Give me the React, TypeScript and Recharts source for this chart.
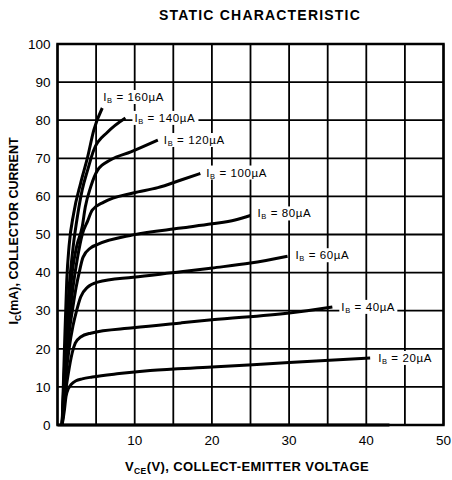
import { CartesianGrid, Line, LineChart, ReferenceArea, XAxis, YAxis } from 'recharts'

// V_CE (V) vs I_C (mA)
const xTicks = [0, 5, 10, 15, 20, 25, 30, 35, 40, 45, 50]
const yTicks = [0, 10, 20, 30, 40, 50, 60, 70, 80, 90, 100]

const ib0 = [[0, 0], [43, 0]]
const ib20 = [[0.6, 0], [0.9, 4], [1.1, 7.5], [1.4, 9.5], [1.8, 10.7], [2.4, 11.6], [3.2, 12.1], [4.5, 12.6], [8, 13.5], [12, 14.3], [20, 15.2], [30, 16.4], [40.5, 17.6]]
const ib40 = [[0.6, 0], [1.0, 8], [1.4, 13.5], [1.9, 18.9], [2.3, 21.5], [3, 23.1], [4.3, 24.1], [9.8, 25.5], [16, 26.8], [20, 27.6], [30, 29.4], [35.6, 31]]
const ib60 = [[0.6, 0], [1.0, 11], [1.5, 20], [2.0, 26], [2.5, 30.2], [3.0, 33.6], [3.9, 36.2], [5.2, 37.5], [9.8, 38.8], [16, 40.2], [20, 41.2], [25, 42.5], [29.8, 44.3]]
const ib80 = [[0.6, 0], [1.0, 13], [1.5, 24], [2.0, 31], [2.4, 36], [2.85, 40.4], [3.3, 44], [4.3, 46.5], [5.2, 47.4], [9.8, 49.9], [16, 51.7], [20, 52.8], [23, 53.8], [25, 55]]
const ib100 = [[0.6, 0], [1.0, 15], [1.5, 27], [2.0, 36], [2.6, 44], [3.2, 50], [3.9, 53.5], [4.5, 56.4], [6, 58.5], [9.8, 60.9], [13, 62.3], [16, 64.3], [18.5, 66]]
const ib120 = [[0.6, 0], [1.0, 18], [1.5, 31], [1.9, 40], [2.5, 47], [3.2, 52], [3.6, 57.2], [4.3, 62.5], [5.2, 66.9], [6.9, 69.6], [9.5, 71.7], [13, 74.8]]
const ib140 = [[0.6, 0], [1.0, 20], [1.5, 36], [2.1, 48], [2.6, 55], [3.2, 61.7], [3.9, 66.9], [4.7, 72.2], [6.5, 76.9], [8.8, 80.6]]
const ib160 = [[0.6, 0], [0.9, 20], [1.2, 38], [1.5, 47], [2.1, 55.6], [3.0, 63.5], [3.9, 70.3], [4.7, 77.4], [5.8, 83.2]]

const curves = [
  { ib: '20', pts: ib20, dx: 8, dy: 0 },
  { ib: '40', pts: ib40, dx: 9, dy: 0 },
  { ib: '60', pts: ib60, dx: 8, dy: -1 },
  { ib: '80', pts: ib80, dx: 7, dy: -2 },
  { ib: '100', pts: ib100, dx: 6, dy: -1 },
  { ib: '120', pts: ib120, dx: 6, dy: 0 },
  { ib: '140', pts: ib140, dx: 9, dy: 0 },
  { ib: '160', pts: ib160, dx: 1, dy: -11 },
]

const FONT = '"Liberation Sans", Arial, Helvetica, sans-serif'

const toRows = (pts: number[][]) => pts.map(([v, i]) => ({ v, i }))

function endLabel(ib: string, dx: number, dy: number, last: number) {
  return (p: any) => {
    if (p.index !== last) return null
    const x = p.x + dx
    const y = p.y + dy
    return (
      <g>
        <rect x={x - 2} y={y - 7} width={ib.length > 2 ? 66 : 58} height={14} fill="#fff" />
        <text x={x} y={y} fontSize={11.5} fill="#000" fontFamily={FONT} dominantBaseline="central" letterSpacing={0.6}>
          <tspan>I</tspan>
          <tspan fontSize={7.5} dy={3}>B</tspan>
          <tspan dy={-3}>{` = ${ib}µA`}</tspan>
        </text>
      </g>
    )
  }
}

export default function App() {
  return (
    <div style={{ position: 'absolute', left: 0, top: 0, width: 452, height: 480, background: '#fff' }}>
      <div
        style={{
          position: 'absolute',
          left: 260,
          top: 6,
          transform: 'translateX(-50%)',
          whiteSpace: 'nowrap',
          fontFamily: FONT,
          fontWeight: 'bold',
          fontSize: 14,
          lineHeight: '18px',
          letterSpacing: 1.2,
          color: '#000',
        }}
      >
        STATIC CHARACTERISTIC
      </div>
      <LineChart width={452} height={480} margin={{ top: 44, right: 8.5, bottom: 25, left: 12.5 }}>
        <CartesianGrid stroke="#000" strokeWidth={1.8} strokeOpacity={1} />
        <XAxis
          type="number"
          dataKey="v"
          domain={[0, 50]}
          ticks={xTicks}
          interval={0}
          height={30}
          tickSize={0}
          tickMargin={10}
          axisLine={false}
          tickFormatter={(t: number) => (t > 0 && t % 10 === 0 ? String(t) : '')}
          tick={{ fill: '#000', fontSize: 13.5, fontFamily: FONT }}
          label={{
            content: () => (
              <text x={247} y={471} textAnchor="middle" fontSize={13} fontWeight="bold" fill="#000" fontFamily={FONT} letterSpacing={0.4}>
                <tspan>V</tspan>
                <tspan fontSize={8.5} dy={3}>CE</tspan>
                <tspan dy={-3}>(V), COLLECT-EMITTER VOLTAGE</tspan>
              </text>
            ),
          }}
        />
        <YAxis
          type="number"
          domain={[0, 100]}
          ticks={yTicks}
          interval={0}
          width={45}
          tickSize={0}
          tickMargin={7}
          axisLine={false}
          tick={{ fill: '#000', fontSize: 13.5, fontFamily: FONT }}
          label={{
            content: () => (
              <text
                x={0}
                y={0}
                transform="translate(18 231) rotate(-90)"
                textAnchor="middle"
                fontSize={12.5}
                fontWeight="bold"
                fill="#000"
                fontFamily={FONT}
              >
                <tspan>I</tspan>
                <tspan fontSize={8.5} dy={3}>C</tspan>
                <tspan dy={-3}>(mA), COLLECTOR CURRENT</tspan>
              </text>
            ),
          }}
        />
        <ReferenceArea x1={0} x2={50} y1={0} y2={100} fill="none" stroke="#000" strokeWidth={2.5} ifOverflow="visible" />
        <Line
          data={toRows(ib0)}
          dataKey="i"
          type="linear"
          stroke="#000"
          strokeWidth={3}
          dot={false}
          isAnimationActive={false}
        />
        {curves.map((c) => (
          <Line
            key={c.ib}
            data={toRows(c.pts)}
            dataKey="i"
            type="monotone"
            stroke="#000"
            strokeWidth={3}
            dot={false}
            isAnimationActive={false}
            label={endLabel(c.ib, c.dx, c.dy, c.pts.length - 1)}
          />
        ))}
      </LineChart>
    </div>
  )
}
